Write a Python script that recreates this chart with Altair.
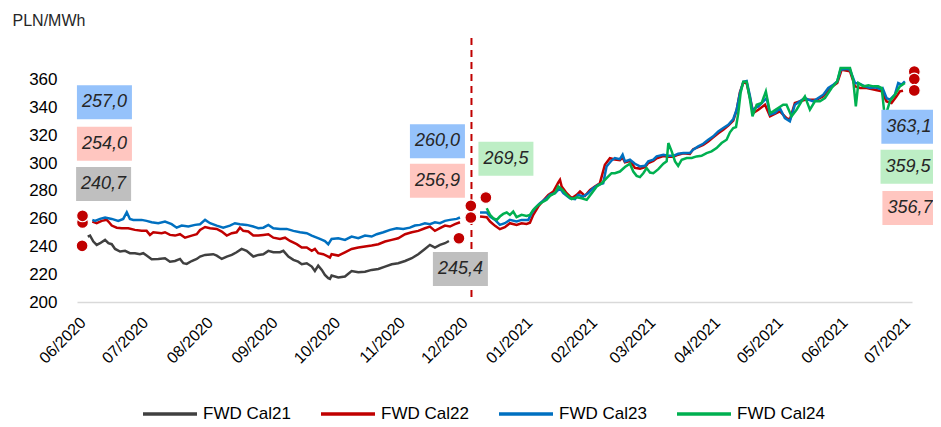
import altair as alt
import pandas as pd

START = pd.Timestamp("2020-06-01")

SERIES = ["FWD Cal21", "FWD Cal22", "FWD Cal23", "FWD Cal24"]
COLORS = ["#404040", "#c00000", "#0070c0", "#00b050"]

# x values: days since 1 June 2020; y values: PLN/MWh
cal21_day = [3.7, 4.8, 6.4, 8.0, 9.6, 12.0, 13.6, 15.2, 16.8, 19.2, 21.6, 23.9, 26.3, 28.7, 30.3, 31.9,
             34.3, 37.5, 40.7, 43.1, 45.5, 47.9, 49.5, 51.1, 53.5, 55.9, 57.5, 59.9,
             63.8, 65.5, 67.9, 70.3, 72.7, 75.0, 77.4, 79.8, 83.0, 85.4, 87.8, 90.2, 92.6, 95.8, 97.4,
             99.8, 102.2, 104.5, 106.2, 108.6, 111.0, 112.5, 114.1, 115.8, 117.3, 118.9, 119.7,
             120.5, 123.7, 126.9, 130.1, 133.3, 136.5, 139.7, 142.9, 146.1, 149.3, 152.4, 155.7, 158.9,
             162.0, 165.2, 167.6, 170.0, 172.4, 174.8, 176.7]
cal21_val = [247.1, 247.8, 243.5, 241.1, 242.3, 244.7, 242.3, 241.6, 238.2, 236.3, 236.8, 235.1, 235.1, 234.4, 235.1, 233.4,
             230.8, 231.0, 231.5, 229.0, 229.5, 231.0, 227.9, 227.4, 229.5, 231.0, 232.7, 233.9,
             234.4, 233.4, 231.0, 232.7, 233.9, 235.8, 238.2, 236.8, 232.7, 233.9, 234.4, 236.8, 235.8, 235.8, 236.8,
             232.7, 230.3, 229.0, 227.2, 227.9, 225.5, 222.3, 226.2, 223.1, 219.5, 217.1, 216.6,
             219.0, 217.6, 218.3, 222.3, 221.4, 221.8, 223.1, 223.8, 225.5, 227.2, 227.9, 229.5, 231.5,
             234.4, 238.2, 241.1, 239.2, 241.1, 242.3, 243.9]

cal22_day = [5.9, 8.0, 10.4, 12.8, 13.6, 15.2, 17.6, 20.0, 23.1, 26.3, 29.5, 31.9, 33.5, 35.1, 39.1, 40.7,
             43.1, 45.5, 47.9, 50.3, 53.5, 55.9, 57.5, 59.9,
             62.3, 65.5, 67.9, 70.3, 72.7, 75.0, 76.6, 78.2, 80.6, 83.0, 85.4, 87.8, 90.2, 92.6, 95.8, 98.2,
             100.6, 103.8, 106.2, 108.6, 111.0, 112.5, 114.1, 116.5, 118.9, 119.7,
             120.5, 123.7, 126.9, 130.1, 133.3, 136.5, 139.7, 142.9, 146.1, 149.3, 152.4, 155.7, 158.9,
             162.0, 165.2, 167.6, 170.0, 172.4, 174.8, 177.2, 179.6, 182.0,
             191.6, 194.8, 196.4, 198.8, 201.1, 203.5, 205.9, 209.1, 211.5, 213.9, 215.5, 217.1, 219.5,
             221.9, 224.3, 226.7, 229.1, 229.9, 230.7, 233.1, 235.5, 237.9, 239.5, 241.9, 244.3, 246.6,
             249.0, 251.4, 253.8,
             256.2, 258.6, 259.9, 261.0, 263.4, 265.8, 268.2, 270.6, 272.2, 274.6, 276.2, 279.4, 281.8,
             284.2, 286.5, 289.0, 292.1, 293.7, 296.1, 298.5, 300.9, 303.3, 305.7, 308.1, 310.5, 312.9,
             314.5, 316.1, 317.7, 319.3, 320.9,
             322.5, 324.9, 328.1, 330.5, 335.2, 338.4, 340.0, 342.4, 347.2, 352.8, 356.0, 359.2, 362.7,
             364.8, 368.8, 371.2, 373.6, 376.8, 380.7, 384.0, 386.3, 388.7, 391.1, 392.7, 394.2]
cal22_val = [257.9, 256.7, 258.4, 259.1, 257.9, 255.0, 253.5, 253.1, 253.1, 251.9, 251.2, 251.2, 248.3, 250.2, 249.5, 250.2,
             248.3, 247.8, 248.8, 246.3, 247.8, 248.8, 251.9, 254.0,
             253.1, 252.6, 250.7, 247.8, 249.5, 250.2, 253.5, 251.2, 250.7, 247.8, 247.8, 248.3, 248.8, 246.3, 245.4, 246.3,
             243.9, 241.6, 239.2, 239.2, 236.8, 238.2, 235.1, 234.4, 232.7, 232.0,
             234.4, 233.4, 235.8, 238.2, 239.2, 239.9, 240.6, 241.6, 243.5, 244.7, 245.9, 248.8, 250.2,
             251.2, 253.1, 254.3, 251.2, 253.1, 255.0, 254.3, 256.0, 257.4,
             261.5, 261.0, 257.9, 254.8, 252.4, 253.8, 256.7, 255.5, 256.7, 256.2, 257.1, 262.7, 268.7,
             273.0, 277.1, 279.5, 286.0, 287.9, 283.1, 278.3, 274.7, 277.1, 279.5, 276.4, 280.7, 283.1,
             285.5, 298.7, 303.5,
             302.5, 302.0, 304.0, 300.5, 301.5, 296.5, 296.0, 297.0, 300.0, 301.5, 303.5, 305.0, 304.5,
             304.5, 306.0, 307.0, 306.5, 310.0, 311.5, 313.0, 315.5, 318.5, 321.5, 324.0, 327.0, 330.5,
             338.0, 351.0, 358.0, 357.5, 347.0,
             336.0, 338.4, 342.0, 333.6, 337.2, 332.4, 331.2, 343.2, 345.6, 345.6, 348.0, 354.0, 357.6,
             367.2, 366.0, 355.2, 354.0, 354.0, 352.8, 351.6, 344.4, 343.2, 348.0, 351.6, 352.1]

cal23_day = [5.9, 7.2, 9.6, 12.0, 15.2, 18.3, 20.7, 22.4, 23.9, 25.5, 29.5, 31.9, 34.3, 37.5, 40.7, 43.9,
             46.3, 48.7, 51.9, 55.1, 57.5, 59.9,
             62.3, 65.5, 68.6, 71.8, 74.2, 76.6, 79.8, 83.0, 85.4, 87.8, 90.2, 92.6, 95.8, 99.0, 102.2,
             105.4, 108.6, 111.0, 113.4, 114.9, 117.3, 118.9, 119.7,
             120.5, 123.7, 126.9, 130.1, 133.3, 136.5, 139.7, 142.1, 145.3, 148.5, 151.7, 154.8, 158.0,
             160.4, 162.8, 165.2, 167.6, 170.0, 172.4, 174.8, 177.2, 180.4, 182.0,
             191.6, 194.8, 196.4, 198.8, 201.1, 203.5, 205.9, 209.1, 211.5, 214.7, 216.3, 217.9, 220.3,
             223.5, 225.1, 227.5, 229.9, 231.5, 234.7, 237.1, 238.6, 241.0, 243.4, 245.8, 248.2, 250.6,
             252.2, 254.6,
             256.2, 258.6, 259.9, 261.0, 263.4, 265.8, 268.2, 270.6, 272.2, 274.6, 276.2, 279.4, 281.8,
             284.2, 286.5, 289.0, 292.1, 293.7, 296.1, 298.5, 300.9, 303.3, 305.7, 308.1, 310.5, 312.9,
             314.5, 316.1, 317.7, 319.3, 320.9,
             322.1, 323.3, 324.9, 327.3, 328.9, 330.5, 332.9, 335.2, 337.6, 340.0, 342.4, 344.8, 347.2,
             348.8, 351.2, 353.6, 356.0, 358.4, 360.8, 362.7, 364.3, 367.2, 368.8, 371.2, 373.6, 376.0,
             378.4, 380.7, 383.1, 384.4, 386.3, 387.9, 390.3, 391.9, 393.5, 395.1]
cal23_val = [259.1, 258.4, 259.8, 260.8, 259.8, 258.4, 259.8, 264.6, 259.8, 259.1, 259.1, 258.4, 257.4, 256.7, 257.9, 256.0,
             253.5, 255.0, 254.3, 255.5, 256.0, 259.1,
             256.7, 255.0, 253.5, 255.0, 256.7, 256.0, 255.5, 254.3, 253.1, 253.5, 255.5, 253.1, 252.6, 252.6, 251.2,
             250.2, 249.5, 247.8, 246.3, 245.4, 243.9, 241.6, 243.5,
             245.4, 245.9, 244.7, 247.1, 245.9, 247.8, 247.1, 248.8, 250.2, 251.9, 253.1, 252.6, 253.5,
             255.0, 255.5, 256.7, 256.0, 257.4, 256.7, 258.4, 259.1, 259.8, 260.8,
             264.4, 264.4, 261.5, 259.1, 255.5, 256.7, 259.1, 257.9, 259.1, 259.1, 263.9, 267.5, 271.1,
             274.7, 277.1, 278.3, 281.9, 278.3, 274.7, 274.0, 277.1, 275.9, 278.3, 281.9, 284.3, 285.5,
             297.5, 301.8,
             303.6, 302.8, 306.0, 301.2, 302.4, 299.5, 297.6, 298.0, 301.2, 302.4, 304.8, 306.0, 305.2,
             305.2, 306.7, 307.2, 307.2, 309.6, 312.0, 313.9, 316.8, 319.2, 322.8, 325.2, 327.6, 331.7,
             338.4, 350.4, 358.5, 359.0, 348.0,
             337.2, 339.6, 340.8, 344.4, 346.8, 334.8, 336.0, 339.6, 332.4, 330.0, 342.0, 344.4, 346.8,
             345.6, 344.4, 346.8, 349.2, 354.0, 356.4, 358.8, 367.2, 367.9, 367.2, 357.6, 356.9, 355.2,
             354.0, 354.5, 353.5, 354.0, 346.8, 345.6, 349.2, 357.6, 356.4, 358.8]

cal24_day = [194.8, 196.4, 197.9, 199.6, 201.1, 202.7, 204.4, 205.9, 207.5, 209.1, 211.5, 213.9, 215.5,
             217.1, 219.5, 221.9, 223.5, 225.1, 227.5, 229.1, 230.7, 233.1, 235.5, 237.9, 240.3, 242.7,
             245.1, 247.5, 249.9, 252.2, 254.6,
             256.2, 258.6, 261.0, 263.4, 265.0, 266.6, 268.2, 269.8, 271.4, 273.0, 274.6, 277.0, 279.4,
             281.0, 281.8, 283.4, 285.0, 286.5, 288.2, 290.6, 293.0, 295.3, 297.7, 300.1, 302.5, 304.9,
             307.3, 309.7, 311.3, 312.9, 314.2, 315.3, 316.4, 317.7, 319.3, 320.9,
             322.1, 324.1, 326.5, 328.5, 330.5, 332.0, 334.4, 336.8, 338.4, 340.8, 343.2, 345.6, 347.2,
             349.6, 352.0, 354.4, 356.8, 360.0, 362.7, 364.3, 368.8, 370.3, 371.6, 372.8, 375.2, 377.6,
             380.0, 382.3, 384.0, 385.5, 387.9, 390.3, 392.7, 395.1]
cal24_val = [267.5, 262.7, 260.3, 259.1, 261.5, 263.4, 264.4, 262.7, 265.1, 261.0, 262.7, 262.0, 262.7,
             266.3, 269.9, 272.3, 273.5, 276.4, 278.3, 283.1, 281.2, 277.1, 274.0, 275.4, 274.7, 273.5,
             278.3, 283.1, 285.5, 289.1, 292.7,
             292.7, 293.9, 297.1, 299.5, 293.9, 290.8, 289.9, 292.7, 296.4, 293.2, 292.7, 295.6, 299.5,
             301.2, 314.4, 308.4, 301.2, 298.0, 302.4, 303.6, 303.6, 304.8, 305.2, 307.2, 308.4, 310.8,
             314.4, 316.8, 322.1, 325.2, 325.9, 336.0, 350.4, 358.5, 358.5, 345.6,
             333.6, 342.0, 343.2, 351.6, 336.0, 337.2, 339.6, 342.0, 342.0, 333.6, 338.4, 344.4, 348.0,
             338.4, 344.4, 344.4, 346.8, 354.0, 358.8, 368.4, 368.4, 360.0, 340.8, 357.6, 355.2, 355.9,
             355.2, 355.2, 354.0, 332.4, 344.4, 349.2, 355.2, 357.6]

# red markers (days since 1 June 2020, PLN/MWh)
dot_day = [1.2, 1.2, 1.0, 187.2, 187.2, 181.5, 194.4, 399.6, 399.6, 399.6]
dot_val = [257.2, 262.0, 240.4, 269.2, 260.8, 245.9, 275.2, 365.8, 360.5, 352.3]

# value call-outs
label_text = ["257,0", "254,0", "240,7", "260,0", "256,9", "269,5", "245,4", "363,1", "359,5", "356,7"]
label_day = [11.7, 11.7, 11.3, 171.2, 171.2, 204.0, 182.2, 397.0, 396.6, 397.5]
label_val = [343.8, 313.9, 285.0, 315.7, 287.2, 303.1, 223.8, 326.1, 297.3, 267.7]
label_fill = ["#95c2fb", "#ffc6c0", "#bfbfbf", "#95c2fb", "#ffc6c0", "#bdeec5", "#bfbfbf",
              "#95c2fb", "#bdeec5", "#ffc6c0"]

rule_day = [187.5]

Y_TICKS = [200, 220, 240, 260, 280, 300, 320, 340, 360]
MONTHS = [(2020, m) for m in range(6, 13)] + [(2021, m) for m in range(1, 8)]


def to_dates(days):
    return START + pd.to_timedelta(days, unit="D")


def frame(name, days, vals):
    return pd.DataFrame({
        "date": to_dates(days),
        "value": vals,
        "series": name,
        "seg": [1 if d < 186 else 2 for d in days],
    })


lines_df = pd.concat([
    frame(SERIES[0], cal21_day, cal21_val),
    frame(SERIES[1], cal22_day, cal22_val),
    frame(SERIES[2], cal23_day, cal23_val),
    frame(SERIES[3], cal24_day, cal24_val),
], ignore_index=True)

dots_df = pd.DataFrame({"date": to_dates(dot_day), "value": dot_val, "k": range(len(dot_day))})
labels_df = pd.DataFrame({"date": to_dates(label_day), "value": label_val,
                          "text": label_text, "fill": label_fill})
rule_df = pd.DataFrame({"date": to_dates(rule_day)})

x_scale = alt.Scale(domain=[alt.DateTime(year=2020, month=5, date=30, hours=13, minutes=26),
                            alt.DateTime(year=2021, month=7, date=4, hours=12)], nice=False)
y_scale = alt.Scale(domain=[200, 390], nice=False, zero=False)

x_axis = alt.Axis(values=[alt.DateTime(year=y, month=m, date=1) for y, m in MONTHS],
                  format="%m/%Y", labelAngle=-45, labelFontSize=16, labelColor="#000000",
                  ticks=False, grid=False, domainColor="#d9d9d9", domainWidth=1.5,
                  labelPadding=12, labelOffset=-3, title=None, labelOverlap=False)
y_axis = alt.Axis(values=Y_TICKS, labelFontSize=17, labelColor="#000000", ticks=False,
                  grid=False, domain=False, labelPadding=20, labelOverlap=False, title="PLN/MWh",
                  titleAngle=0, titleAlign="left", titleBaseline="middle", titleX=-65, titleY=-18,
                  titleFontSize=16, titleFontWeight="normal", titleColor="#262626")

X = alt.X("date:T", scale=x_scale, axis=x_axis)
Y = alt.Y("value:Q", scale=y_scale, axis=y_axis)

lines = alt.Chart(lines_df).mark_line(strokeWidth=2.5).encode(
    x=X, y=Y,
    color=alt.Color("series:N", scale=alt.Scale(domain=SERIES, range=COLORS),
                    legend=alt.Legend(orient="none", legendX=64, legendY=347, direction="horizontal",
                                      title=None, symbolType="stroke", symbolSize=2916,
                                      symbolStrokeWidth=3.5, labelFontSize=17, labelOffset=4,
                                      columnPadding=23, padding=0, labelColor="#000000",
                                      labelLimit=200)),
    detail="seg:N",
)

rule = alt.Chart(rule_df).mark_rule(color="#c00000", strokeDash=[7, 5], strokeWidth=2).encode(x=X)

dots = alt.Chart(dots_df).mark_circle(size=140, color="#c00000", opacity=1, stroke="white",
                                      strokeWidth=1.2).encode(x=X, y=Y, order="k:Q")

BOX = "M-1,-0.618H1V0.618H-1Z"
boxes = alt.Chart(labels_df).mark_point(shape=BOX, size=3025, filled=True, opacity=1,
                                        strokeWidth=0).encode(
    x=X, y=Y, fill=alt.Fill("fill:N", scale=None))

texts = alt.Chart(labels_df).mark_text(fontSize=18, fontStyle="italic", color="#262626",
                                       align="center", baseline="middle").encode(
    x=X, y=Y, text="text:N")

chart = alt.layer(lines, rule, dots, boxes, texts).properties(
    width=835, height=264,
    autosize=alt.AutoSizeParams(type="none"),
    padding={"left": 69, "top": 30, "right": 21, "bottom": 123},
).configure(font="Liberation Sans").configure_view(stroke=None)

chart.save("out.html", embed_options={"renderer": "svg", "actions": False})
